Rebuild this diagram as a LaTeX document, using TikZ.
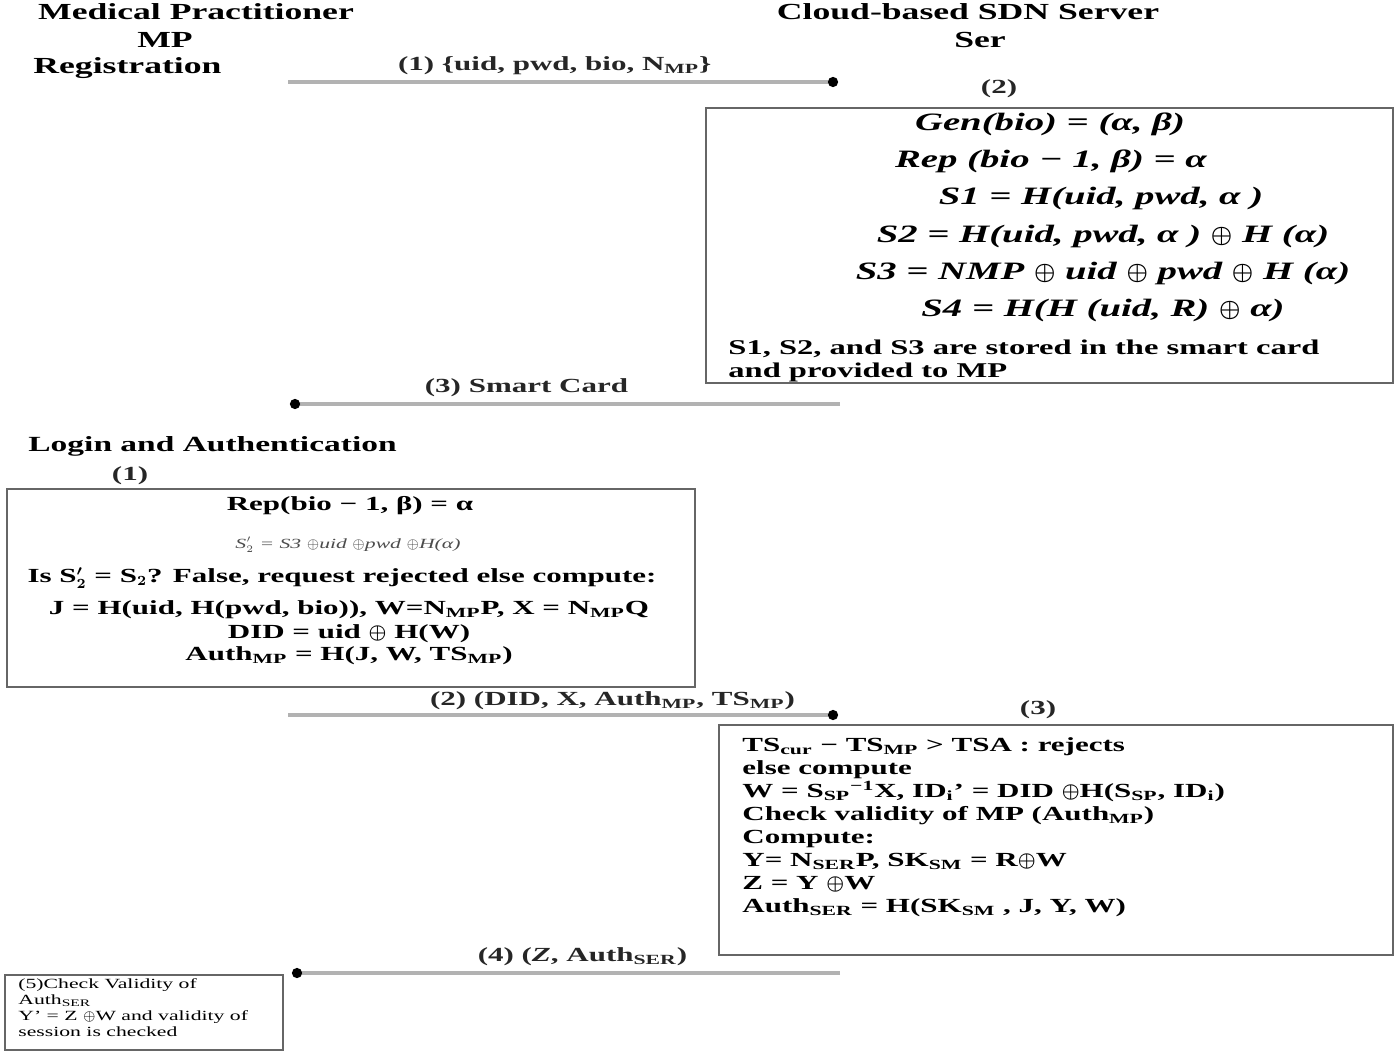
\documentclass[tikz,border=0pt]{standalone}
\usepackage{fontspec}
\setmainfont{Liberation Serif}[FakeStretch=1.55]
\usepackage{tikz}
\usetikzlibrary{positioning,arrows.meta,fit}

\begin{document}
\begin{tikzpicture}[
    x=0.5pt, y=-0.5pt,
    head/.style={font=\fontsize{11.5}{13}\selectfont\bfseries, inner sep=0pt},
    eqn/.style={font=\fontsize{12.5}{14}\selectfont\bfseries\itshape\boldmath, inner sep=0pt},
    txt/.style={font=\fontsize{10}{11.5}\selectfont\bfseries\boldmath, inner sep=0pt},
    msg/.style={font=\fontsize{10}{11}\selectfont\bfseries\boldmath, inner sep=0pt, text=black!85},
    note/.style={font=\fontsize{7}{8}\selectfont, inner sep=0pt, align=left},
    box/.style={rectangle, draw=black!60, line width=1.2pt, inner sep=0pt},
    flow/.style={draw=black!30, line width=1.6pt, -{Circle[black,length=5pt]}},
]
\useasboundingbox (0,0) rectangle (1400,1059);

% Parties
\node[head] (mp) at (196,12) {Medical Practitioner};
\node[head] (mpabbr) at (165,40) {MP};
\node[head, anchor=west] (reg) at (33,68) {Registration};
\node[head] (ser) at (968,12) {Cloud-based SDN Server};
\node[head] (serabbr) at (980,40) {Ser};

% Registration phase
\coordinate (m1a) at (288,82);
\coordinate (m1b) at (838,82);
\draw[flow] (m1a) -- node[msg, above=3pt, pos=0.485] (m1lbl) {(1) \{uid, pwd, bio, N\textsubscript{MP}\}} (m1b);

\node[msg] (stepser) at (999,89) {(2)};
\coordinate (b1a) at (706,108);
\coordinate (b1b) at (1393,383);
\node[box, fit=(b1a)(b1b)] (regbox) {};
\node[eqn] (gen) at (1050,124) {Gen(bio)  =  (α, β)};
\node[eqn] (rep) at (1051,161) {Rep (bio − 1, β) =  α};
\node[eqn] (s1) at (1101,198) {S1  = H(uid, pwd, α )};
\node[eqn] (s2) at (1103,236) {S2  = H(uid, pwd, α ) $\oplus$ H (α)};
\node[eqn] (s3) at (1103,273) {S3 =  NMP $\oplus$ uid $\oplus$ pwd $\oplus$ H (α)};
\node[eqn] (s4) at (1103,310) {S4  =  H(H (uid, R) $\oplus$ α)};
\node[txt, anchor=north west, align=left, font=\fontsize{10.5}{11.5}\selectfont\bfseries] (stored) at (728,340)
    {S1, S2, and S3 are stored in the smart card\\and provided to MP};

\coordinate (m3a) at (840,404);
\coordinate (m3b) at (290,404);
\draw[flow] (m3a) -- node[msg, above=3pt, pos=0.57] (m3lbl) {(3)  Smart Card} (m3b);

% Login and authentication phase
\node[head, anchor=west, font=\fontsize{10.8}{13}\selectfont\bfseries] (login) at (28,446) {Login and Authentication};
\node[msg] (stepmp) at (130,476) {(1)};
\coordinate (b2a) at (7,489);
\coordinate (b2b) at (695,687);
\node[box, fit=(b2a)(b2b)] (loginbox) {};
\node[txt] (rep2) at (350,506) {Rep(bio − 1, β) =  α};
\node[txt, font=\fontsize{7}{8}\selectfont\itshape, text=black!70] (s2chk) at (348,545) {S$'_{2}$ = S3 $\oplus$uid $\oplus$pwd $\oplus$H(α)};
\node[txt] (cmp) at (342,578) {Is S$'_{2}$ = S$_{2}$? False, request rejected else compute:};
\node[txt] (jline) at (349,610) {J = H(uid, H(pwd, bio)), W=N\textsubscript{MP}P, X = N\textsubscript{MP}Q};
\node[txt] (did) at (349,634) {DID = uid $\oplus$ H(W)};
\node[txt] (authmp) at (349,656) {Auth\textsubscript{MP} = H(J, W, TS\textsubscript{MP})};

\coordinate (m2a) at (288,715);
\coordinate (m2b) at (838,715);
\draw[flow] (m2a) -- node[msg, above=2pt, pos=0.59] (m2lbl) {(2) (DID, X, Auth\textsubscript{MP}, TS\textsubscript{MP})} (m2b);

\node[msg] (stepser3) at (1038,710) {(3)};
\coordinate (b3a) at (719,725);
\coordinate (b3b) at (1393,955);
\node[box, fit=(b3a)(b3b)] (srvbox) {};
\node[txt, anchor=north west, align=left] (srvtxt) at (742,737)
    {TS\textsubscript{cur} − TS\textsubscript{MP} > TSA : rejects\\
     else compute\\
     W = S\textsubscript{SP}\textsuperscript{−1}X, ID\textsubscript{i}' = DID $\oplus$H(S\textsubscript{SP}, ID\textsubscript{i})\\
     Check validity of MP (Auth\textsubscript{MP})\\
     Compute:\\
     Y= N\textsubscript{SER}P, SK\textsubscript{SM} = R$\oplus$W\\
     Z = Y $\oplus$W\\
     Auth\textsubscript{SER} = H(SK\textsubscript{SM} , J, Y, W)};

\coordinate (m4a) at (840,973);
\coordinate (m4b) at (292,973);
\draw[flow] (m4a) -- node[msg, above=3pt, pos=0.47] (m4lbl) {(4)  (\textit{Z}, Auth\textsubscript{SER})} (m4b);

\coordinate (b4a) at (5,975);
\coordinate (b4b) at (283,1050);
\node[box, fit=(b4a)(b4b), line width=0.8pt] (chkbox) {};
\node[note, anchor=north west] (chktxt) at (18,978)
    {(5)Check Validity of\\Auth\textsubscript{SER}\\Y' = Z $\oplus$W and validity of\\session is checked};

\end{tikzpicture}
\end{document}
